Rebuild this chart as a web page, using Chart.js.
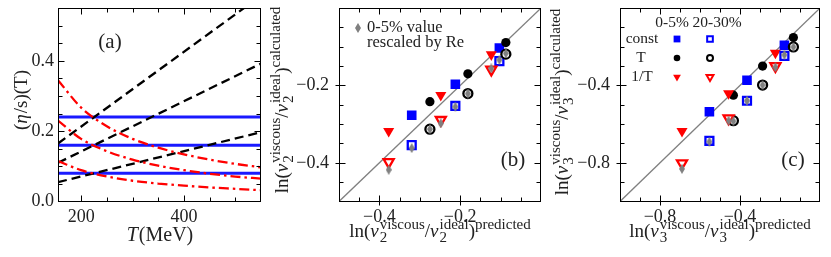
<!DOCTYPE html>
<html>
<head>
<meta charset="utf-8">
<script src="https://cdn.jsdelivr.net/npm/chart.js@4.4.1/dist/chart.umd.min.js"></script>
<style>
  html, body { margin: 0; padding: 0; background: #fff; width: 831px; height: 257px; overflow: hidden; }
  canvas { position: absolute; left: 0; top: 0; }
</style>
</head>
<body>
<canvas id="pa" width="831" height="257"></canvas>
<canvas id="pb" width="831" height="257"></canvas>
<canvas id="pc" width="831" height="257"></canvas>
<script>
// ---- panel (a): eta/s(T) parametrisations ----
const aTRange = [155, 550];
const aConst = [0.08, 0.16, 0.24];
const aLinLeft = [0.055, 0.11, 0.165];
const aLinRight = [0.197, 0.392, 0.585];
const aCurveT = [155, 200, 250, 300, 350, 400, 450, 500, 550];
const aInvT = [
    [0.115, 0.089, 0.071, 0.059, 0.051, 0.045, 0.040, 0.036, 0.032],
    [0.230, 0.178, 0.143, 0.119, 0.102, 0.089, 0.079, 0.071, 0.065],
    [0.345, 0.267, 0.214, 0.178, 0.153, 0.134, 0.119, 0.107, 0.097]
];
const aXLabels = [200, 400];
const aYLabels = [0, 0.2, 0.4];
const aXTicks = [200, 250, 300, 350, 400, 450, 500];
const aYTicks = [0.05, 0.1, 0.15, 0.2, 0.25, 0.3, 0.35, 0.4, 0.45, 0.5];

// ---- panel (b): v2 ----
const bDiag = [-0.5, 0];
const bPredConst = [-0.320, -0.212, -0.103];
const bPredT = [-0.275, -0.181, -0.087];
const bPredInvT = [-0.377, -0.248, -0.123];
const bConst05 = [-0.277, -0.197, -0.103];
const bT05 = [-0.242, -0.170, -0.089];
const bInvT05 = [-0.318, -0.225, -0.120];
const bConst2030 = [-0.354, -0.253, -0.137];
const bT2030 = [-0.313, -0.221, -0.119];
const bInvT2030 = [-0.398, -0.289, -0.159];
const bReConst = [-0.362, -0.255, -0.134];
const bReT = [-0.313, -0.221, -0.117];
const bReInvT = [-0.418, -0.298, -0.156];
const bLabels = [-0.4, -0.2];
const bTicks = [-0.45, -0.4, -0.35, -0.3, -0.25, -0.2, -0.15, -0.1, -0.05];

// ---- panel (c): v3 ----
const cDiag = [-1, 0];
const cPredConst = [-0.553, -0.365, -0.178];
const cPredT = [-0.433, -0.287, -0.133];
const cPredInvT = [-0.690, -0.457, -0.223];
const cConst05 = [-0.536, -0.373, -0.192];
const cT05 = [-0.450, -0.300, -0.152];
const cInvT05 = [-0.636, -0.441, -0.232];
const cConst2030 = [-0.686, -0.479, -0.247];
const cT2030 = [-0.582, -0.398, -0.201];
const cInvT2030 = [-0.802, -0.570, -0.300];
const cReConst = [-0.691, -0.479, -0.242];
const cReT = [-0.585, -0.398, -0.201];
const cReInvT = [-0.831, -0.582, -0.306];
const cLabels = [-0.8, -0.4];
const cTicks = [-0.9, -0.8, -0.7, -0.6, -0.5, -0.4, -0.3, -0.2, -0.1];

const SERIF = '"Liberation Serif", "Times New Roman", serif';
const INK = '#222';
const BLUE = '#0000ff';
const RED = '#ff0000';
const GRAY = '#808080';

// tall gray diamond used for the rescaled 0-5% values
const grayDiamond = document.createElement('canvas');
grayDiamond.width = 6;
grayDiamond.height = 10;
(() => {
    const d = grayDiamond.getContext('2d');
    d.fillStyle = GRAY;
    d.beginPath();
    d.moveTo(3, 0); d.lineTo(6, 5); d.lineTo(3, 10); d.lineTo(0, 5);
    d.closePath();
    d.fill();
})();

const pts = (xs, ys) => xs.map((x, i) => ({ x, y: ys[i] }));

// text with sub/superscripts, optionally rotated
function richText(ctx, segs, x, y, size, rotated) {
    const small = Math.round(size * 0.8);
    const fonts = {
        n: `${size}px ${SERIF}`,
        i: `italic ${size}px ${SERIF}`,
        s: `${small}px ${SERIF}`
    };
    const widthOf = (seg) => {
        const [t, kind, sup] = seg;
        ctx.font = kind === 'i' ? fonts.i : kind === 'n' ? fonts.n : fonts.s;
        let w = ctx.measureText(t).width;
        if (sup) { ctx.font = fonts.s; w = Math.max(w, ctx.measureText(sup).width); }
        return w + (kind === 'i' ? 1 : 0);
    };
    const total = segs.reduce((acc, s) => acc + widthOf(s), 0);
    const raise = size * 0.42, drop = size * 0.25;
    ctx.save();
    ctx.translate(x, y);
    if (rotated) ctx.rotate(-Math.PI / 2);
    ctx.textAlign = 'left';
    ctx.textBaseline = 'alphabetic';
    ctx.fillStyle = INK;
    let cx = -total / 2;
    segs.forEach(seg => {
        const [t, kind, sup] = seg;
        const w = widthOf(seg);
        if (kind === 'sub') {
            ctx.font = fonts.s;
            ctx.fillText(t, cx, drop);
            if (sup) ctx.fillText(sup, cx, -raise);
        } else if (kind === 'sup') {
            ctx.font = fonts.s;
            ctx.fillText(t, cx, -raise);
        } else {
            ctx.font = fonts[kind];
            ctx.fillText(t, cx, 0);
        }
        cx += w;
    });
    ctx.restore();
}

function plainText(ctx, t, x, y, size, align) {
    ctx.font = `${size}px ${SERIF}`;
    ctx.fillStyle = INK;
    ctx.textAlign = align || 'center';
    ctx.textBaseline = 'middle';
    ctx.fillText(t, x, y);
}

// frame, inward ticks, titles and annotations
function decor(cfg) {
    return {
        id: 'decor',
        afterDraw(chart) {
            const { ctx, chartArea: a, scales: { x, y } } = chart;
            ctx.save();
            ctx.strokeStyle = '#000';
            ctx.lineWidth = 1;
            const L = Math.round(a.left) + 0.5, R = Math.round(a.right) - 0.5;
            const T = Math.round(a.top) + 0.5, B = Math.round(a.bottom) - 0.5;
            ctx.strokeRect(L, T, R - L, B - T);
            ctx.beginPath();
            cfg.xTicks.forEach(v => {
                const px = Math.round(x.getPixelForValue(v)) + 0.5;
                const major = cfg.xMajor.includes(v);
                const len = major ? 6 : 4;
                ctx.moveTo(px, B + (major ? cfg.out : 0)); ctx.lineTo(px, B - len);
                ctx.moveTo(px, T); ctx.lineTo(px, T + len);
            });
            cfg.yTicks.forEach(v => {
                const py = Math.round(y.getPixelForValue(v)) + 0.5;
                const major = cfg.yMajor.includes(v);
                const len = major ? 6 : 4;
                ctx.moveTo(L - (major ? cfg.out : 0), py); ctx.lineTo(L + len, py);
                ctx.moveTo(R, py); ctx.lineTo(R - len, py);
            });
            ctx.stroke();
            cfg.titles.forEach(t => richText(ctx, t.segs, t.x, t.y, t.size, t.rot));
            cfg.texts.forEach(t => plainText(ctx, t.t, t.x, t.y, t.size, t.align));
            if (cfg.extra) cfg.extra(ctx);
            ctx.restore();
        }
    };
}

function scaleOpts(min, max, labels, fmt, axis, pad) {
    return {
        type: 'linear',
        min, max,
        afterBuildTicks: s => { s.ticks = labels.map(v => ({ value: v })); },
        afterFit: s => {
            if (axis === 'x') s.height = 40; else s.width = 45;
            s.paddingLeft = s.paddingRight = s.paddingTop = s.paddingBottom = 0;
        },
        grid: { display: false, drawTicks: false },
        border: { display: false },
        ticks: {
            padding: pad,
            color: INK,
            autoSkip: false,
            maxRotation: 0,
            font: { family: SERIF, size: 18 },
            callback: fmt
        }
    };
}

const fmtMinus = v => v.toFixed(1).replace('-', '\u2212');

function makeChart(id, area, scales, datasets, plugin) {
    return new Chart(document.getElementById(id), {
        type: 'scatter',
        data: { datasets },
        options: {
            responsive: false,
            animation: false,
            events: [],
            layout: { padding: { left: area.left - 45, right: 831 - area.right, top: area.top, bottom: 257 - area.bottom - 40 } },
            plugins: { legend: { display: false }, tooltip: { enabled: false } },
            scales
        },
        plugins: [plugin]
    });
}

// ---------- panel (a) ----------
const aSets = [];
aInvT.forEach(vals => aSets.push({
    data: pts(aCurveT, vals), showLine: true, pointRadius: 0,
    borderColor: RED, borderWidth: 2.3, borderDash: [10, 4, 2.5, 4],
    cubicInterpolationMode: 'monotone'
}));
aLinLeft.forEach((v, i) => aSets.push({
    data: pts(aTRange, [v, aLinRight[i]]), showLine: true, pointRadius: 0,
    borderColor: '#000', borderWidth: 2.3, borderDash: [9, 5]
}));
aConst.forEach(v => aSets.push({
    data: pts(aTRange, [v, v]), showLine: true, pointRadius: 0,
    borderColor: '#1a1aff', borderWidth: 3
}));

makeChart('pa', { left: 58, right: 261, top: 8, bottom: 201.5 }, {
    x: scaleOpts(155, 550, aXLabels, v => String(v), 'x', 5),
    y: scaleOpts(0, 0.55, aYLabels, v => v.toFixed(1), 'y', 4)
}, aSets, decor({
    xTicks: aXTicks, yTicks: aYTicks, xMajor: aXLabels, yMajor: aYLabels, out: 0,
    titles: [
        { segs: [['(', 'n'], ['\u03b7', 'i'], ['/s)(T)', 'n']], x: 27, y: 100, size: 19, rot: true },
        { segs: [['T', 'i'], ['(MeV)', 'n']], x: 160, y: 241, size: 20, rot: false }
    ],
    texts: [{ t: '(a)', x: 110, y: 42, size: 21 }]
}));

// ---------- marker datasets shared by (b) and (c) ----------
function markerSets(d) {
    const filled = (style, color, r, rot) => ({
        pointStyle: style, pointRadius: r, pointRotation: rot || 0,
        pointBackgroundColor: color, pointBorderColor: color, pointBorderWidth: 0
    });
    const open = (style, color, r, rot) => ({
        pointStyle: style, pointRadius: r, pointRotation: rot || 0,
        pointBackgroundColor: '#fff', pointBorderColor: color, pointBorderWidth: 2.3
    });
    return [
        { data: pts([...d.pi, ...d.pc, ...d.pt], [...d.ri, ...d.rc, ...d.rt]), pointStyle: grayDiamond, pointRadius: 5 },
        { data: pts(d.pi, d.i2), ...open('triangle', RED, 5.8, 180) },
        { data: pts(d.pt, d.t2), ...open('circle', '#000', 4.5) },
        { data: pts(d.pc, d.c2), ...open('rect', BLUE, 5.6) },
        { data: pts(d.pi, d.i05), ...filled('triangle', RED, 6.4, 180) },
        { data: pts(d.pt, d.t05), ...filled('circle', '#000', 4.6) },
        { data: pts(d.pc, d.c05), ...filled('rect', BLUE, 6.8) },
        { data: pts(d.diag, d.diag), showLine: true, pointRadius: 0, borderColor: GRAY, borderWidth: 1.3 }
    ];
}

const lnTitle = (n, tail) => [['ln(', 'n'], ['v', 'i'], [n, 'sub', 'viscous'], ['/', 'n'], ['v', 'i'], [n, 'sub', 'ideal'], [')', 'n'], [tail, 'sup']];

// ---------- panel (b) ----------
makeChart('pb', { left: 339, right: 541, top: 8, bottom: 201.5 }, {
    x: scaleOpts(-0.5, 0, bLabels, fmtMinus, 'x', 5),
    y: scaleOpts(-0.5, 0, bLabels, fmtMinus, 'y', 10)
}, markerSets({
    diag: bDiag, pc: bPredConst, pt: bPredT, pi: bPredInvT,
    c05: bConst05, t05: bT05, i05: bInvT05, c2: bConst2030, t2: bT2030, i2: bInvT2030,
    rc: bReConst, rt: bReT, ri: bReInvT
}), decor({
    xTicks: bTicks, yTicks: bTicks, xMajor: bLabels, yMajor: bLabels, out: 4,
    titles: [
        { segs: lnTitle('2', 'calculated'), x: 288, y: 100, size: 19, rot: true },
        { segs: lnTitle('2', 'predicted'), x: 440, y: 237, size: 19, rot: false }
    ],
    texts: [
        { t: '(b)', x: 513, y: 160, size: 21 },
        { t: '0-5% value', x: 367, y: 28, size: 16.5, align: 'left' },
        { t: 'rescaled by Re', x: 367, y: 42.5, size: 16.5, align: 'left' }
    ],
    extra: ctx => ctx.drawImage(grayDiamond, 355, 23)
}));

// ---------- panel (c) ----------
makeChart('pc', { left: 620, right: 820, top: 8, bottom: 201.5 }, {
    x: scaleOpts(-1, 0, cLabels, fmtMinus, 'x', 5),
    y: scaleOpts(-1, 0, cLabels, fmtMinus, 'y', 10)
}, markerSets({
    diag: cDiag, pc: cPredConst, pt: cPredT, pi: cPredInvT,
    c05: cConst05, t05: cT05, i05: cInvT05, c2: cConst2030, t2: cT2030, i2: cInvT2030,
    rc: cReConst, rt: cReT, ri: cReInvT
}), decor({
    xTicks: cTicks, yTicks: cTicks, xMajor: cLabels, yMajor: cLabels, out: 4,
    titles: [
        { segs: lnTitle('3', 'calculated'), x: 568, y: 102, size: 19, rot: true },
        { segs: lnTitle('3', 'predicted'), x: 720, y: 237, size: 19, rot: false }
    ],
    texts: [
        { t: '(c)', x: 793, y: 160, size: 21 },
        { t: '0-5%', x: 672, y: 23, size: 15.5 },
        { t: '20-30%', x: 717, y: 23, size: 15.5 },
        { t: 'const', x: 642, y: 39, size: 15.5 },
        { t: 'T', x: 641, y: 58, size: 15.5 },
        { t: '1/T', x: 642, y: 77, size: 15.5 }
    ],
    extra: ctx => {
        const draw = (style, fill, stroke, r, rot, bw, x, y) => {
            ctx.fillStyle = fill;
            ctx.strokeStyle = stroke;
            ctx.lineWidth = bw;
            Chart.helpers.drawPoint(ctx, { pointStyle: style, radius: r, rotation: rot, borderWidth: bw }, x, y);
        };
        draw('rect', BLUE, BLUE, 4.8, 0, 0, 677, 39);
        draw('rect', '#fff', BLUE, 4, 0, 2, 710, 39);
        draw('circle', '#000', '#000', 3.3, 0, 0, 677, 58);
        draw('circle', '#fff', '#000', 3, 0, 2, 710, 58);
        draw('triangle', RED, RED, 4.5, 180, 0, 677, 77);
        draw('triangle', '#fff', RED, 4, 180, 2, 710, 77);
    }
}));
</script>
</body>
</html>
